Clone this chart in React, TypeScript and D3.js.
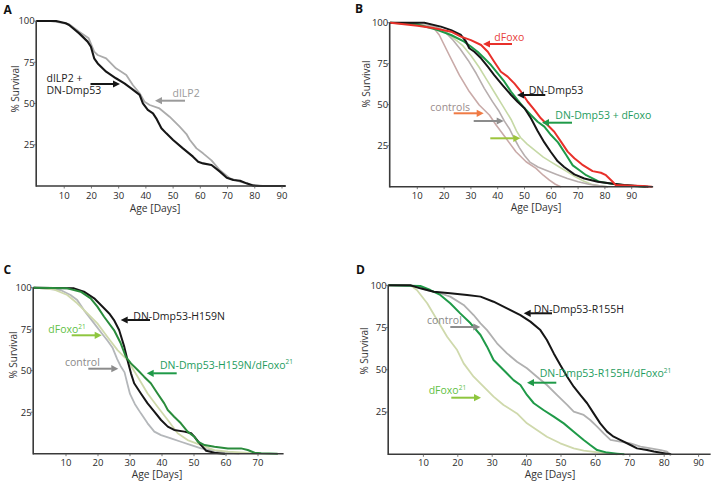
import React from 'react';
import * as d3 from 'd3';

type Pt = [number, number];

// ---------- Panel A ----------
const aDilp2DnDmp53: Pt[] = [[0,100],[7,100],[10.6,98.6],[11.8,97.6],[15.5,92.5],[18.6,87.5],[19.8,84.4],[21,77.4],[22.3,74.3],[25.4,69.3],[29,65.3],[32.1,62.2],[34.6,59.2],[37.7,55.2],[38.9,50.1],[40.7,46.1],[42.6,44],[43.8,41],[45.7,35],[47.5,31.9],[50,27.9],[53.6,22.8],[57.3,17.8],[59.2,14.7],[61,13.7],[64.1,12.7],[67.2,8.7],[69.7,5],[72.1,3.6],[74.6,3.2],[77,1.6],[79.5,0.2],[83,0],[91,0]];
const aDilp2: Pt[] = [[0,100],[5,100],[8.2,99.2],[11.8,98],[15.5,93.5],[19,89.5],[21,81.4],[22.3,79.4],[25.4,77.4],[29,71.3],[32.8,67.3],[35.2,61.2],[37.7,56.2],[39.5,51.1],[41.4,49.1],[45,47],[48.7,42],[52.4,36],[54.9,31.5],[56.1,28],[58.6,22.8],[61,19.8],[64.1,15.5],[67.2,9.5],[70.9,4.6],[74.6,2.6],[78.2,1],[82,0],[91,0]];

// ---------- Panel B ----------
const bCtrlPink: Pt[] = [[0,100],[10,99],[16,97],[18.2,92.5],[21.9,80.3],[25.7,68],[29.4,58],[33.1,49.8],[36.9,43.7],[39.4,37.6],[43.1,29.5],[46.8,21.3],[50.6,15.2],[54.3,11.2],[57,7],[59.3,4],[61.5,1.5],[63.5,0]];
const bCtrlGray: Pt[] = [[0,100],[10,99],[17,97.5],[20,95],[23,90],[26,84],[29,77],[32,69],[35,60],[38,52],[40.5,46],[42.5,40],[44.5,35],[46,30],[48,24],[50,19],[52,15],[55,12],[58,10],[62,7.5],[66,5],[70,3],[74,1.5],[78,0.5],[81,0]];
const bCtrlLightGreen: Pt[] = [[0,100],[10,99],[17,97.5],[21,94],[24,90],[27,86],[30,80],[33,73],[36,65],[39,57],[42,49],[45,41],[47,34],[48.5,30],[51,26],[54,22],[57,18],[60,15],[63,12],[66,9],[69,6],[72,3.5],[75,1.5],[78,0.5],[81,0]];
const bDnDmp53: Pt[] = [[0,100],[12.6,100],[18.8,97.6],[22.6,95.5],[26.3,92.5],[28.2,88.4],[29.4,84.4],[31.3,82.3],[33.8,78.3],[36.3,73.2],[38.7,68.1],[41.8,62],[45,55.9],[47.4,51.8],[50,47.8],[52.4,41.7],[54.9,34],[57.4,27],[59.9,21],[62.4,15.5],[64.8,12],[68.6,7.5],[72.3,5],[77.3,3],[82.3,2],[87.2,1],[92.2,0.4],[96,0]];
const bDfoxo: Pt[] = [[0,100],[10.1,98.2],[16.4,96.6],[22.6,94.5],[26.3,91.5],[30,89.4],[33.8,86.4],[36.3,82.3],[38.7,76.2],[41.2,70.1],[43.7,67.1],[46.2,63],[48.7,57.9],[51.2,51.8],[53.7,46.8],[56.1,41.7],[58.6,37.6],[61.1,33.5],[63.6,27.5],[66.1,21.4],[68.6,17.3],[71.5,13.5],[75.4,9.5],[78.5,8.5],[80.4,7],[82.9,3],[84,1],[88,0.8],[94,0.4],[97.5,0]];
const bDnDmp53Dfoxo: Pt[] = [[0,100],[10,99],[17.6,95.5],[22.6,92.5],[27.5,88.4],[30,85.4],[32.5,82.3],[35,78.3],[37.5,74.2],[40,69.1],[42.5,64],[45,57.9],[47.4,52.9],[50,47.8],[52.4,43.7],[54.9,39.6],[57.4,36.6],[59.9,31.5],[62.5,27],[65.5,19.5],[68,13],[70.5,10],[73,7],[78,3],[82,2],[86.6,1],[92,0.3],[95,0]];

// ---------- Panel C ----------
const cControl: Pt[] = [[0,100],[8.3,98.6],[11.4,95.6],[13.5,92.6],[15.6,86.5],[18.8,78.5],[21.4,72],[23,68],[24.5,64],[26,57],[27,53],[28.3,49],[29.2,42],[30,36],[31.5,30],[33.4,24.3],[35.5,18.3],[37.6,13.3],[39.7,11.2],[42.8,9.2],[45.9,7.2],[49.1,5.2],[52.2,3.2],[56.4,1.8],[60.6,0.6],[64,0]];
const cDfoxo21: Pt[] = [[0,100],[6.2,99],[10.4,95.6],[13.5,90.6],[16.7,84.5],[19.8,78.5],[22.9,70.5],[26.1,62.4],[29.2,56.4],[32.4,46.4],[35.5,36.3],[38.6,28.3],[41.8,20.3],[44.9,12.3],[48,8.2],[52.2,5.2],[56.4,2.2],[60.6,1.2],[65.8,0.6],[70,0]];
const cDnH159N: Pt[] = [[0,100],[12.5,99.6],[15.6,97.6],[18.8,93.6],[21.9,87.6],[23.5,84.5],[25,80.5],[26.6,74.5],[28.2,64.5],[29.2,56.4],[30.3,48.4],[31.3,42.4],[33.4,36.3],[35.5,30.3],[37.6,25.3],[39.7,20.3],[41.8,16.3],[43.8,14.3],[47,13.3],[49.1,12.3],[50.1,10.3],[52.2,5.2],[53.8,1.8],[56.4,0.6],[59.5,0]];
const cDnH159NDfoxo21: Pt[] = [[0,100],[10.4,99.6],[14.6,97.6],[17.7,93.6],[19.8,88.6],[21.9,82.5],[25,74.5],[27.1,66.5],[28.7,58.4],[30.3,54.4],[32.4,50.4],[34.4,46.4],[36.5,42.4],[38.6,36.3],[40.7,30.3],[41.8,26.3],[43.8,22.3],[45.9,18.3],[48,13.3],[50.1,10.2],[51.2,7.2],[53.3,5.2],[56.4,4.2],[60.6,3.2],[64.7,3.2],[66.8,2.2],[68.9,0.6],[71,0.2],[76,0]];

// ---------- Panel D ----------
const dDfoxo21: Pt[] = [[0,100],[6.2,100],[8.1,97.2],[11.1,89.4],[14,79.5],[16.9,69.6],[19.8,61.7],[21.7,53.8],[24.6,45.9],[27.5,40],[30.4,34.1],[33.3,29.2],[37.2,24.2],[40.1,18.3],[43,14.4],[45.9,10.4],[49.8,6.5],[53.7,3.5],[56.6,2.2],[61.4,1],[66.3,0]];
const dControl: Pt[] = [[0,100],[7.2,99.6],[11.1,97.2],[14.9,95.3],[17.8,93.3],[21.7,88.4],[24.6,82.4],[26.6,77.5],[28.5,73.5],[31.4,65.7],[34.3,59.7],[37.2,54.8],[40.1,50.9],[43,45.9],[45.9,41],[48.8,35.1],[51.8,29.2],[53.7,25.2],[56.6,23.3],[58.5,20.3],[60.5,16.4],[62.4,12.4],[64.4,8.5],[67.2,7.5],[70.2,6.5],[73.1,4.5],[76.1,3.5],[79,2.5],[80.8,1.6],[81.8,0]];
const dDnR155HDfoxo21: Pt[] = [[0,100],[9.1,99.6],[12,97.2],[14.9,94.3],[17.8,89.4],[20.7,83.4],[23.7,77.5],[26.6,70.6],[28.5,63.7],[30.4,55.8],[33.3,49.9],[36.2,43.9],[38.2,41],[40.1,35.1],[42.1,30.2],[44.9,26.2],[47.9,22.3],[50.8,18.3],[53.7,13.4],[56.6,8.5],[58.5,5.5],[60.5,2.5],[63.4,1],[66.3,0.4],[68.2,0]];
const dDnR155H: Pt[] = [[0,100],[6.2,100],[9.1,98.2],[13,96.2],[17.8,95.3],[22.7,94.3],[26.6,93.3],[30.4,90.3],[34.3,86.4],[38.2,82.4],[41.1,78.5],[44,73.5],[45.9,67.6],[47.9,59.7],[49.8,52.8],[51.8,45.9],[53.7,40],[55.6,35.1],[57.6,30.2],[59.5,24.2],[61.4,18.3],[63.4,13.4],[65.3,10.4],[67.2,8.5],[70.2,5.5],[72.1,3.5],[75,2.5],[77,1.6],[79.9,0.6],[81.8,0]];

// ---------- Ticks ----------
const yTicks = [25, 50, 75, 100];
const xTicks90 = [10, 20, 30, 40, 50, 60, 70, 80, 90];
const xTicks70 = [10, 20, 30, 40, 50, 60, 70];

const FONT = "'Open Sans', 'Liberation Sans', Arial, sans-serif";
const BLACK = '#161616';
const GREEN = '#1f9a48';
const GREEN_TXT = '#1e9c5e';
const LGREEN_TXT = '#5fbf45';
const LGREEN_ARROW = '#8ec63f';
const PALE = '#cfd9ac';
const GRAY = '#ababab';

type Series = { data: Pt[]; color: string; width: number };
type Label = { text: string; sup?: string; x: number; y: number; color: string };
type ArrowDef = { x1: number; x2: number; y: number; color: string };
type PanelDef = {
  letter: string; lx: number; ly: number;
  x0: number; x1: number; dMax: number; axisMax: number;
  yTop: number; yBot: number;
  xTicks: number[]; tickDy: number;
  series: Series[];
  labels: Label[];
  arrows: ArrowDef[];
  ylabX: number; ylabY: number;
  xlabX: number; xlabY: number;
};

const panels: PanelDef[] = [
  {
    letter: 'A', lx: 3.5, ly: 13.5,
    x0: 37, x1: 282, dMax: 90, axisMax: 91.3, yTop: 21, yBot: 186, xTicks: xTicks90, tickDy: 13.2,
    series: [
      { data: aDilp2, color: GRAY, width: 1.8 },
      { data: aDilp2DnDmp53, color: BLACK, width: 2.1 },
    ],
    labels: [
      { text: 'dILP2 +', x: 46.5, y: 81.5, color: '#222' },
      { text: 'DN-Dmp53', x: 46.5, y: 93.5, color: '#222' },
      { text: 'dILP2', x: 172.5, y: 97, color: '#9a9a9a' },
    ],
    arrows: [
      { x1: 90.5, x2: 120, y: 84, color: BLACK },
      { x1: 185, x2: 155, y: 100.7, color: '#9a9a9a' },
    ],
    ylabX: 15, ylabY: 89, xlabX: 155, xlabY: 211.5,
  },
  {
    letter: 'B', lx: 355, ly: 13,
    x0: 390.5, x1: 631.7, dMax: 90, axisMax: 98, yTop: 22.7, yBot: 186.7, xTicks: xTicks90, tickDy: 12.7,
    series: [
      { data: bCtrlLightGreen, color: '#c6d9a6', width: 1.6 },
      { data: bCtrlGray, color: '#b7aeae', width: 1.6 },
      { data: bCtrlPink, color: '#c9aaa8', width: 1.6 },
      { data: bDnDmp53Dfoxo, color: GREEN, width: 2 },
      { data: bDnDmp53, color: BLACK, width: 2 },
      { data: bDfoxo, color: '#e8302a', width: 2 },
    ],
    labels: [
      { text: 'dFoxo', x: 494.3, y: 41, color: '#e8403a' },
      { text: 'DN-Dmp53', x: 528.7, y: 93.5, color: '#222' },
      { text: 'DN-Dmp53 + dFoxo', x: 555.3, y: 118.5, color: GREEN_TXT },
      { text: 'controls', x: 430.3, y: 110.5, color: '#9a8c8c' },
    ],
    arrows: [
      { x1: 512, x2: 483, y: 44, color: '#e8302a' },
      { x1: 545.3, x2: 517, y: 95, color: BLACK },
      { x1: 572, x2: 542, y: 122.7, color: GREEN },
      { x1: 453.7, x2: 483.7, y: 113.3, color: '#f07a44' },
      { x1: 473.7, x2: 503.7, y: 121, color: '#8c8c8c' },
      { x1: 490.3, x2: 520.3, y: 138.3, color: '#9cc43c' },
    ],
    ylabX: 366, ylabY: 84, xlabX: 536, xlabY: 211,
  },
  {
    letter: 'C', lx: 3.5, ly: 274,
    x0: 34, x1: 258, dMax: 70, axisMax: 78, yTop: 287.7, yBot: 453.7, xTicks: xTicks70, tickDy: 11.8,
    series: [
      { data: cControl, color: '#b4b7ba', width: 1.8 },
      { data: cDfoxo21, color: PALE, width: 1.8 },
      { data: cDnH159N, color: BLACK, width: 2 },
      { data: cDnH159NDfoxo21, color: '#2a8c3c', width: 2 },
    ],
    labels: [
      { text: 'DN-Dmp53-H159N', x: 133.3, y: 319.5, color: '#222' },
      { text: 'dFoxo', sup: '21', x: 48.3, y: 333, color: LGREEN_TXT },
      { text: 'control', x: 65, y: 365.5, color: '#8a8a8a' },
      { text: 'DN-Dmp53-H159N/dFoxo', sup: '21', x: 160, y: 368.5, color: GREEN_TXT },
    ],
    arrows: [
      { x1: 150, x2: 120.7, y: 320, color: BLACK },
      { x1: 71.7, x2: 101.7, y: 335.3, color: LGREEN_ARROW },
      { x1: 88.3, x2: 118.3, y: 368.7, color: '#8c8c8c' },
      { x1: 176.7, x2: 146.7, y: 373.3, color: GREEN },
    ],
    ylabX: 13.5, ylabY: 355, xlabX: 157, xlabY: 478,
  },
  {
    letter: 'D', lx: 356, ly: 274,
    x0: 389, x1: 698.6, dMax: 90, axisMax: 93.5, yTop: 285.3, yBot: 454.3, xTicks: xTicks90, tickDy: 11.8,
    series: [
      { data: dDfoxo21, color: PALE, width: 1.8 },
      { data: dControl, color: '#b0b0b0', width: 1.8 },
      { data: dDnR155HDfoxo21, color: GREEN, width: 2 },
      { data: dDnR155H, color: BLACK, width: 2 },
    ],
    labels: [
      { text: 'DN-Dmp53-R155H', x: 533.7, y: 312.5, color: '#222' },
      { text: 'control', x: 427, y: 323.5, color: '#8a8a8a' },
      { text: 'DN-Dmp53-R155H/dFoxo', sup: '21', x: 539.7, y: 377, color: GREEN_TXT },
      { text: 'dFoxo', sup: '21', x: 428.7, y: 394, color: LGREEN_TXT },
    ],
    arrows: [
      { x1: 552, x2: 523.7, y: 313.3, color: BLACK },
      { x1: 450.3, x2: 480.3, y: 327, color: '#8c8c8c' },
      { x1: 556.3, x2: 527, y: 382.7, color: GREEN },
      { x1: 451.3, x2: 481, y: 397.7, color: LGREEN_ARROW },
    ],
    ylabX: 364, ylabY: 351, xlabX: 550, xlabY: 478,
  },
];

function Arrow({ a }: { a: ArrowDef }) {
  const dir = Math.sign(a.x2 - a.x1);
  const hl = 7, hw = 3.6;
  const xb = a.x2 - dir * hl;
  return (
    <g>
      <line x1={a.x1} y1={a.y} x2={xb + dir * 0.5} y2={a.y} stroke={a.color} strokeWidth={2} />
      <polygon points={`${a.x2},${a.y} ${xb},${a.y - hw} ${xb},${a.y + hw}`} fill={a.color} />
    </g>
  );
}

function Panel({ p }: { p: PanelDef }) {
  const x = d3.scaleLinear().domain([0, p.dMax]).range([p.x0, p.x1]);
  const y = d3.scaleLinear().domain([0, 100]).range([p.yBot, p.yTop]);
  const line = d3.line<Pt>().x(d => x(d[0])).y(d => y(d[1])).curve(d3.curveLinear);
  const ax = x(0) - 0.8;
  return (
    <g fontFamily={FONT}>
      <text x={p.lx} y={p.ly} fontSize={12} fontWeight={700} fill="#111">{p.letter}</text>
      {p.series.map((s, i) => (
        <path key={i} d={line(s.data) || ''} fill="none" stroke={s.color} strokeWidth={s.width} strokeLinejoin="round" strokeLinecap="round" />
      ))}
      <line x1={ax} y1={y(100)} x2={ax} y2={y(0) + 0.8} stroke="#3a3a3a" strokeWidth={1.6} />
      <line x1={ax} y1={y(0)} x2={x(p.axisMax)} y2={y(0)} stroke="#3a3a3a" strokeWidth={1.6} />
      {yTicks.map(t => (
        <g key={t}>
          <line x1={ax - 2.5} x2={ax} y1={y(t)} y2={y(t)} stroke="#555" strokeWidth={0.8} />
          <text x={ax - 1.5} y={y(t)} dy="0.35em" textAnchor="end" fontSize={9.5} fill="#2a2a2a">{t}</text>
        </g>
      ))}
      {p.xTicks.map(t => (
        <g key={t}>
          <line x1={x(t)} x2={x(t)} y1={y(0)} y2={y(0) + 2.5} stroke="#555" strokeWidth={0.8} />
          <text x={x(t)} y={y(0) + p.tickDy} textAnchor="middle" fontSize={9.5} fill="#2a2a2a">{t}</text>
        </g>
      ))}
      <text x={p.xlabX} y={p.xlabY} textAnchor="middle" fontSize={10.3} fill="#333">Age [Days]</text>
      <text transform={`translate(${p.ylabX},${p.ylabY}) rotate(-90)`} textAnchor="middle" dy="0.35em" fontSize={10} fill="#333">% Survival</text>
      {p.arrows.map((a, i) => <Arrow key={i} a={a} />)}
      {p.labels.map((l, i) => (
        <text key={i} x={l.x} y={l.y} fontSize={10.5} fill={l.color}>
          {l.text}
          {l.sup ? <tspan fontSize={6.5} dy={-4.5}>{l.sup}</tspan> : null}
        </text>
      ))}
    </g>
  );
}

export default function App() {
  return (
    <svg width={714} height={482} viewBox="0 0 714 482" style={{ position: 'absolute', left: 0, top: 0, background: '#fff' }}>
      <rect width={714} height={482} fill="#fff" />
      {panels.map(p => <Panel key={p.letter} p={p} />)}
    </svg>
  );
}
